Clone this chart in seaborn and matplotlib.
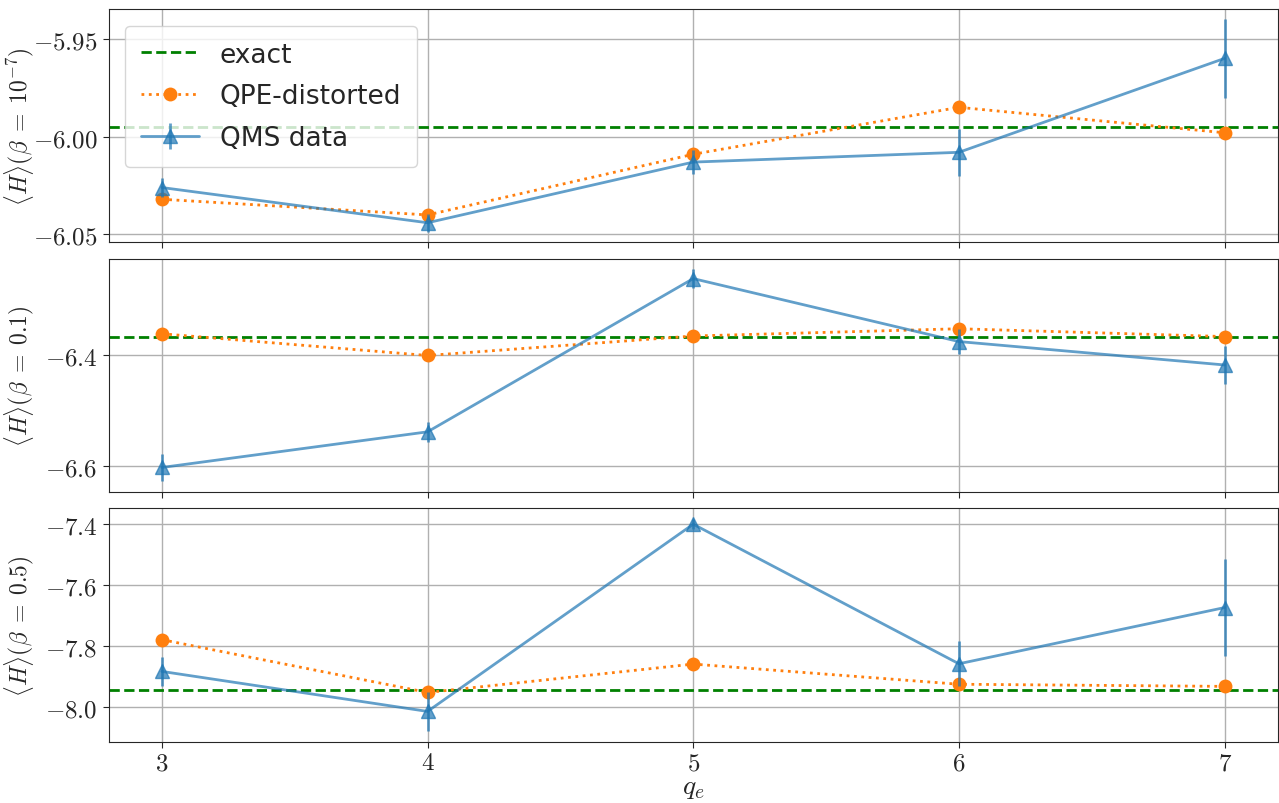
import numpy as np
import pandas as pd
import matplotlib
matplotlib.use("Agg")
import matplotlib.pyplot as plt
from matplotlib.ticker import FormatStrFormatter
import seaborn as sns

sns.set_style("ticks")
plt.rcParams["mathtext.fontset"] = "cm"
plt.rcParams["font.family"] = ["DejaVu Sans"]

# data
qe = [3, 4, 5, 6, 7]
betas = [r"10^{-7}", "0.1", "0.5"]
exact = [-5.995, -6.367, -7.944]
qpe = [
    [-6.032, -6.040, -6.009, -5.985, -5.998],
    [-6.362, -6.401, -6.366, -6.353, -6.367],
    [-7.780, -7.953, -7.860, -7.926, -7.933],
]
qms = [
    [-6.026, -6.044, -6.013, -6.008, -5.960],
    [-6.602, -6.538, -6.263, -6.376, -6.418],
    [-7.884, -8.015, -7.402, -7.859, -7.675],
]
qms_err = [
    [0.005, 0.0045, 0.006, 0.012, 0.020],
    [0.025, 0.018, 0.017, 0.022, 0.034],
    [0.047, 0.065, 0.017, 0.073, 0.159],
]
tick_fmt = ["$%.2f$", "$%.1f$", "$%.1f$"]
yticks = [[-6.05, -6.00, -5.95], [-6.6, -6.4], [-8.0, -7.8, -7.6, -7.4]]

fig, axes = plt.subplots(3, 1, figsize=(12.79, 8.04), dpi=100, sharex=True)
fig.subplots_adjust(left=0.085, right=0.999, top=0.988, bottom=0.076, hspace=0.07)

for i, ax in enumerate(axes):
    df = pd.DataFrame({"qe": qe, "qpe": qpe[i]})
    ax.axhline(exact[i], color="green", linestyle="--", linewidth=2, label="exact", zorder=2)
    sns.lineplot(data=df, x="qe", y="qpe", ax=ax, color="#ff7f0e", linestyle=":",
                 linewidth=2, marker="o", markersize=10, markeredgewidth=0,
                 label="QPE-distorted", zorder=3)
    ax.errorbar(qe, qms[i], yerr=qms_err[i], color="#1f77b4", marker="^",
                markersize=10, linewidth=2, elinewidth=2, alpha=0.7,
                label="QMS data", zorder=4)
    ax.set_yticks(yticks[i])
    ax.yaxis.set_major_formatter(FormatStrFormatter(tick_fmt[i]))
    ax.set_ylabel(r"$\langle H\rangle(\beta\;=\;%s)$" % betas[i], fontsize=17)
    ax.yaxis.set_label_coords(-0.062, 0.5)
    ax.grid(True, color="#b0b0b0", linewidth=1)
    ax.tick_params(labelsize=18, length=4, pad=4)
    ax.tick_params(axis="x", pad=2)
    ax.set_xlabel("")
    if i == 0:
        ax.legend(loc="upper left", fontsize=19, framealpha=0.8, handlelength=2.2,
                  labelspacing=0.6, borderpad=0.6, borderaxespad=0,
                  bbox_to_anchor=(0.0137, 0.927))
    elif ax.get_legend():
        ax.get_legend().remove()

axes[-1].set_xticks(qe)
axes[-1].xaxis.set_major_formatter(FormatStrFormatter("$%d$"))
axes[-1].set_xlabel(r"$q_e$", fontsize=20)
axes[-1].xaxis.set_label_coords(0.5, -0.13)

fig.savefig("out.png", dpi=100)
